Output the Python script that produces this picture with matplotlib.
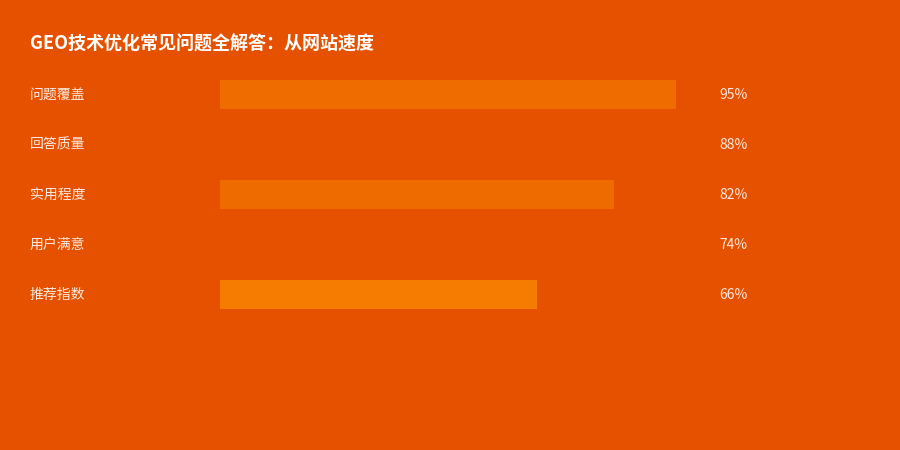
import matplotlib
matplotlib.use('Agg')
import matplotlib.pyplot as plt
import matplotlib.transforms as mtransforms

plt.rcParams['font.family'] = ['Noto Sans CJK SC', 'DejaVu Sans']

# 数据
categories = ['问题覆盖', '回答质量', '实用程度', '用户满意', '推荐指数']
values = [95, 88, 82, 74, 66]
value_labels = ['95%', '88%', '82%', '74%', '66%']
bar_colors = ['#EF6C00', '#E65100', '#EE6B00', '#E65100', '#F57C00']

BG = '#E65100'
W, H = 900, 450

fig = plt.figure(figsize=(9, 4.5), dpi=100, facecolor=BG)

# 轴区域：x 220→700 像素，y 69→319 像素
ax = fig.add_axes([220 / W, (H - 319) / H, 480 / W, 250 / H])
ax.set_facecolor(BG)
ax.patch.set_alpha(0)
ypos = list(range(len(categories)))
ax.barh(ypos, values, height=0.58, color=bar_colors, edgecolor='none')
ax.set_xlim(0, 100)
ax.set_ylim(len(categories) - 0.5, -0.5)
ax.axis('off')

# 文字整体下移 1 像素
trans = mtransforms.blended_transform_factory(fig.transFigure, ax.transData) + \
    mtransforms.ScaledTranslation(0, -1 / 100, fig.dpi_scale_trans)
for i, (cat, lab) in enumerate(zip(categories, value_labels)):
    ax.text(30 / W, i, cat, transform=trans, ha='left', va='center',
            fontsize=10, color='#FFFFFF', alpha=0.88)
    ax.text(719.5 / W, i, lab, transform=trans, ha='left', va='center',
            fontsize=10, color='#FFFFFF', alpha=0.88)

fig.text(30 / W, 1 - 44 / H, 'GEO技术优化常见问题全解答：从网站速度',
         ha='left', va='center', fontsize=13, fontweight='bold', color='white')

fig.savefig('out.png', dpi=100, facecolor=BG)
